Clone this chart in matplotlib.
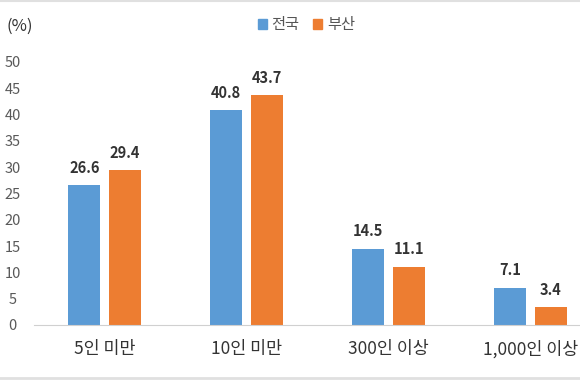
import numpy as np
import matplotlib.pyplot as plt
from matplotlib.patches import Patch

plt.rcParams['font.family'] = ['Noto Sans CJK KR', 'DejaVu Sans']

categories = ['5인 미만', '10인 미만', '300인 이상', '1,000인 이상']
national = [26.6, 40.8, 14.5, 7.1]
busan = [29.4, 43.7, 11.1, 3.4]
series_names = ['전국', '부산']

blue = '#5B9BD5'
orange = '#ED7D31'

fig = plt.figure(figsize=(5.8, 3.8), dpi=100)
ax = fig.add_axes([0.058, 0.145, 0.942, 0.692])

x = np.arange(len(categories))
w = 0.225
b1 = ax.bar(x - 0.143, national, w, color=blue)
b2 = ax.bar(x + 0.143, busan, w, color=orange)

for bars, vals in ((b1, national), (b2, busan)):
    for b, v in zip(bars, vals):
        ax.text(b.get_x() + b.get_width() / 2, v + 1.8, f'{v:.1f}',
                ha='center', va='bottom', fontsize=10.5, fontweight='bold', color='#333333')

ax.set_xlim(-0.5, 3.35)
ax.set_ylim(0, 50)
ax.set_yticks(range(0, 51, 5))
ax.set_xticks(x)
ax.set_xticklabels(categories, fontsize=12.5, color='#333333')
ax.tick_params(axis='y', length=0, labelsize=10.5, labelcolor='#595959', pad=15)
ax.tick_params(axis='x', length=0, pad=11)
for s in ['top', 'right', 'left']:
    ax.spines[s].set_visible(False)
ax.spines['bottom'].set_color('#d0d0d0')
for lbl in ax.get_yticklabels():
    lbl.set_horizontalalignment('center')

fig.text(0.012, 0.93, '(%)', fontsize=12, color='#333333', va='center')

handles = [Patch(color=blue), Patch(color=orange)]
fig.legend(handles, series_names, loc='center', bbox_to_anchor=(0.528, 0.935), ncol=2,
           frameon=False, fontsize=11, handlelength=0.6, handleheight=0.6,
           handletextpad=0.3, columnspacing=0.9, labelcolor='#555555')

fig.add_artist(plt.Line2D([0, 1], [0.997, 0.997], color='#e0e0e0', lw=1.5))
fig.add_artist(plt.Line2D([0, 1], [0.005, 0.005], color='#e0e0e0', lw=2))

fig.savefig('out.png', dpi=100)
